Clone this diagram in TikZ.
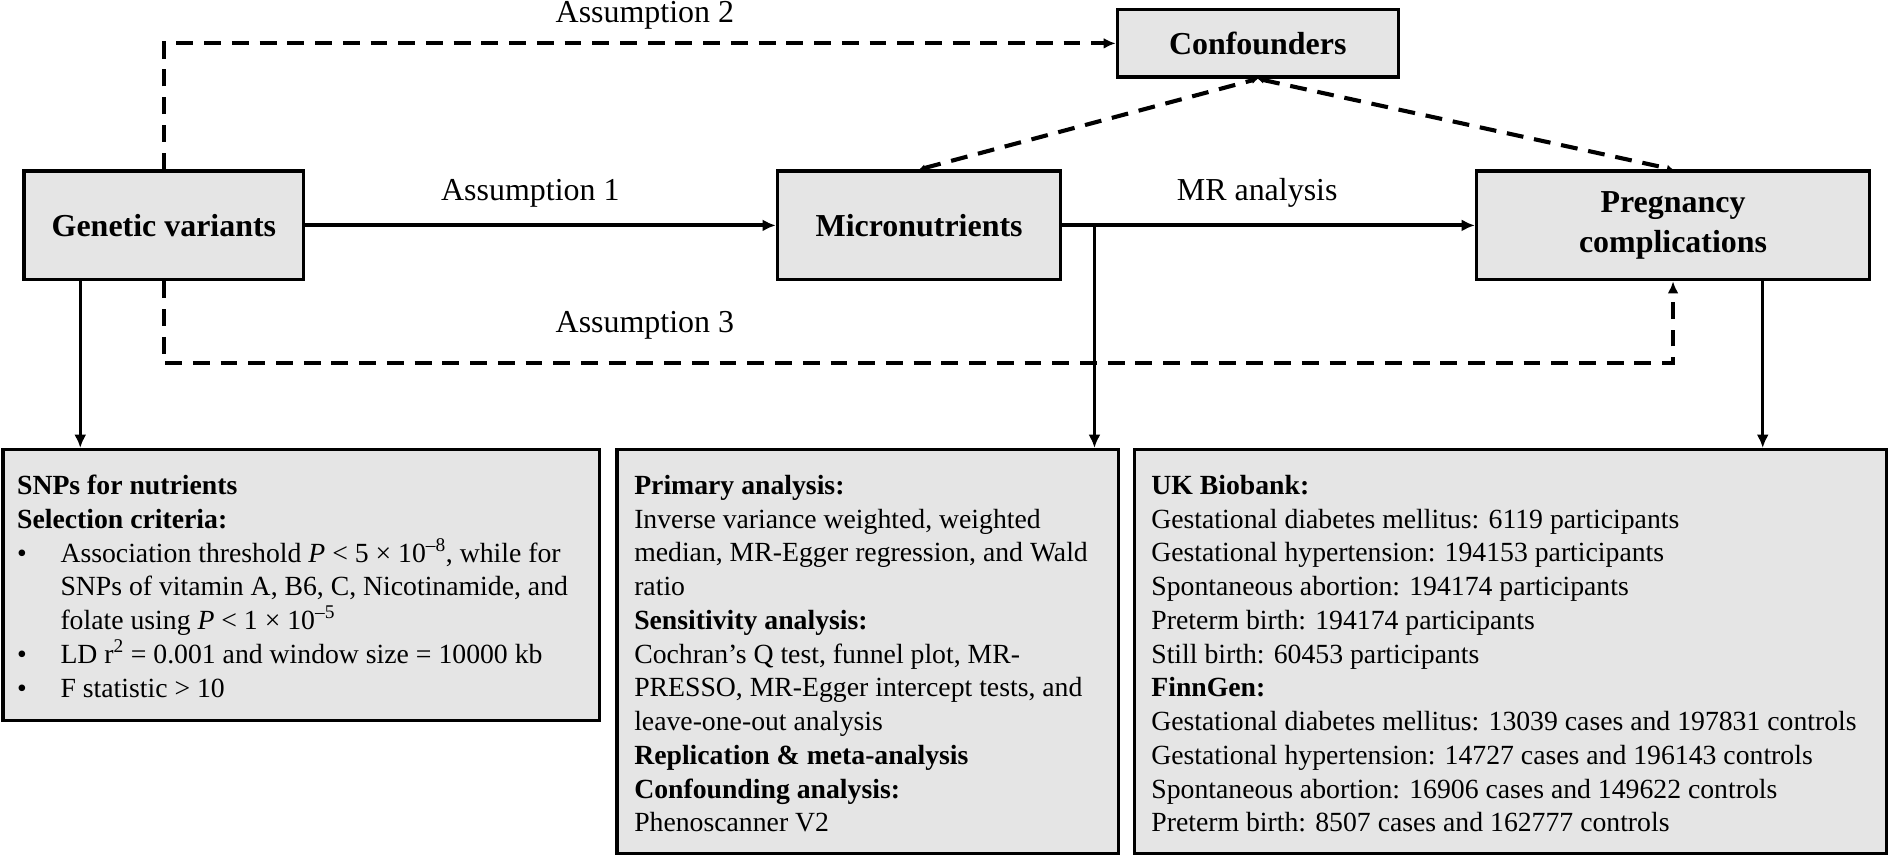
\documentclass[tikz,border=0pt]{standalone}
\usepackage{fontspec}
\setmainfont{Liberation Serif}
\usetikzlibrary{arrows.meta,calc}
\begin{document}
\begin{tikzpicture}[x=1pt,y=1pt,
  box/.style={draw=black,line width=2.8pt,fill=gray!20,inner sep=0pt},
  ttl/.style={font=\fontsize{26.5}{33}\selectfont\bfseries,align=center},
  lbl/.style={font=\fontsize{26.5}{30}\selectfont,inner sep=0pt},
  body/.style={font=\fontsize{23}{28}\selectfont,align=left,anchor=north west,inner sep=0pt},
  solidarr/.style={line width=3.4pt,-{Latex[length=11pt,width=10pt]}},
  thinarr/.style={line width=2.4pt,-{Latex[length=11pt,width=10pt]}},
  dasharr/.style={line width=3.4pt,dash pattern=on 14pt off 9pt,-{Latex[length=10pt,width=9pt]}},
  dashboth/.style={line width=3.4pt,dash pattern=on 14pt off 9pt,{Latex[length=5pt,width=6pt]}-{Latex[length=5pt,width=6pt]}}
]
\useasboundingbox (0,0) rectangle (1568,-711);

\node[box,ttl,minimum width=232pt,minimum height=90pt] (gv) at (136,-187) {Genetic variants};
\node[box,ttl,minimum width=233pt,minimum height=56pt] (conf) at (1043.5,-36) {Confounders};
\node[box,ttl,minimum width=235pt,minimum height=90pt] (micro) at (762.5,-187) {Micronutrients};
\node[box,ttl,minimum width=326pt,minimum height=90pt] (preg) at (1388,-187) {Pregnancy\\complications};

\node[box,minimum width=495pt,minimum height=225pt] (snp) at (250,-485.5) {};
\node[box,minimum width=416pt,minimum height=335pt] (ana) at (720,-540.5) {};
\node[box,minimum width=624pt,minimum height=335pt] (data) at (1253,-540.5) {};

\node[lbl] (a2) at (535,-13) {Assumption 2};
\node[lbl] (a1) at (440,-160) {Assumption 1};
\node[lbl] (mr) at (1043,-160) {MR analysis};
\node[lbl] (a3) at (535,-270) {Assumption 3};

\draw[solidarr] (gv) -- (micro);
\draw[solidarr] (micro) -- (preg);
\coordinate (j) at (908,-187);
\draw[thinarr] (j) -- (j |- ana.north);
\draw[thinarr] ([xshift=48pt]gv.south west) -- ([xshift=48pt]gv.south west |- snp.north);
\draw[thinarr] ([xshift=-90pt]preg.south east) -- ([xshift=-90pt]preg.south east |- data.north);

\draw[dasharr] (gv.north) |- (conf.west);
\draw[dasharr] (gv.south) -- ++(0,-68) -| (preg.south);
\draw[dashboth] (micro.north) -- (conf.south);
\draw[dashboth] (conf.south) -- (preg.north);

\node[body] (snptxt) at (14,-394) {\textbf{SNPs for nutrients}\\
\textbf{Selection criteria:}\\
\makebox[36pt][l]{•}Association threshold \textit{P} < 5 × 10\textsuperscript{–8}, while for\\
\hspace*{36pt}SNPs of vitamin A, B6, C, Nicotinamide, and\\
\hspace*{36pt}folate using \textit{P} < 1 × 10\textsuperscript{–5}\\
\makebox[36pt][l]{•}LD r\textsuperscript{2} = 0.001 and window size = 10000 kb\\
\makebox[36pt][l]{•}F statistic > 10};

\node[body] (anatxt) at (526,-394) {\textbf{Primary analysis:}\\
Inverse variance weighted, weighted\\
median, MR-Egger regression, and Wald\\
ratio\\
\textbf{Sensitivity analysis:}\\
Cochran’s Q test, funnel plot, MR-\\
PRESSO, MR-Egger intercept tests, and\\
leave-one-out analysis\\
\textbf{Replication \& meta-analysis}\\
\textbf{Confounding analysis:}\\
Phenoscanner V2};

\node[body] (datatxt) at (955,-394) {\textbf{UK Biobank:}\\
Gestational diabetes mellitus: 6119 participants\\
Gestational hypertension: 194153 participants\\
Spontaneous abortion: 194174 participants\\
Preterm birth: 194174 participants\\
Still birth: 60453 participants\\
\textbf{FinnGen:}\\
Gestational diabetes mellitus: 13039 cases and 197831 controls\\
Gestational hypertension: 14727 cases and 196143 controls\\
Spontaneous abortion: 16906 cases and 149622 controls\\
Preterm birth: 8507 cases and 162777 controls};
\end{tikzpicture}
\end{document}
